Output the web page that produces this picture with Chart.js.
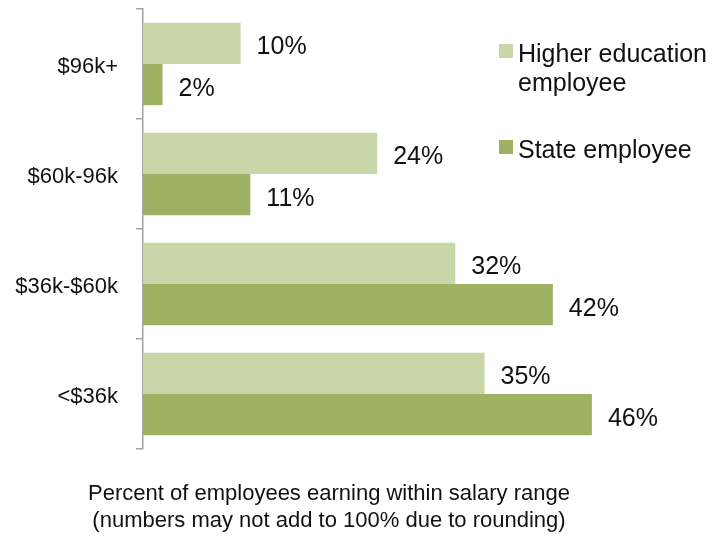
<!DOCTYPE html>
<html>
<head>
<meta charset="utf-8">
<script src="https://cdn.jsdelivr.net/npm/chart.js@4/dist/chart.umd.min.js"></script>
<style>
  html, body { margin: 0; padding: 0; background: #fff; }
  #wrap { width: 713px; height: 537px; }
</style>
</head>
<body>
<div id="wrap"><canvas id="salaryChart" width="713" height="537"></canvas></div>
<script>
var salaryRanges = ["$96k+", "$60k-96k", "$36k-$60k", "<$36k"];
var higherEdPct = [10, 24, 32, 35];
var statePct = [2, 11, 42, 46];
var seriesNames = [["Higher education", "employee"], ["State employee"]];
var footNote = [
    "Percent of employees earning within salary range",
    "(numbers may not add to 100% due to rounding)"
];

var FONT = '"Liberation Sans", Arial, Helvetica, sans-serif';
var LIGHT = "#c8d6a8";
var DARK = "#9db262";

// percent labels just past the end of each bar
var valueLabels = {
    id: "valueLabels",
    afterDatasetsDraw: function (chart) {
        var ctx = chart.ctx;
        ctx.save();
        ctx.font = "25px " + FONT;
        ctx.fillStyle = "#111";
        ctx.textAlign = "left";
        ctx.textBaseline = "middle";
        chart.data.datasets.forEach(function (ds, i) {
            chart.getDatasetMeta(i).data.forEach(function (bar, j) {
                ctx.fillText(ds.data[j] + "%", bar.x + 16, bar.y + 4);
            });
        });
        ctx.restore();
    }
};

// legend on the right plus the note under the plot
var sideLegend = {
    id: "sideLegend",
    afterDraw: function (chart) {
        var ctx = chart.ctx;
        ctx.save();
        ctx.font = "25px " + FONT;
        ctx.fillStyle = "#111";
        ctx.textAlign = "left";
        ctx.textBaseline = "alphabetic";
        var tops = [44, 140];
        chart.data.datasets.forEach(function (ds, i) {
            ctx.fillStyle = ds.backgroundColor;
            ctx.fillRect(499, tops[i], 14, 14);
            ctx.fillStyle = "#111";
            seriesNames[i].forEach(function (line, k) {
                ctx.fillText(line, 518, tops[i] + 18 + k * 29);
            });
        });

        ctx.font = "22px " + FONT;
        ctx.textAlign = "center";
        footNote.forEach(function (line, k) {
            ctx.fillText(line, 329, 500 + k * 27);
        });
        ctx.restore();
    }
};

var myBarChart = new Chart(document.getElementById("salaryChart"), {
    type: "bar",
    data: {
        labels: salaryRanges,
        datasets: [
            {
                label: "Higher education employee",
                data: higherEdPct,
                backgroundColor: LIGHT,
                categoryPercentage: 0.75,
                barPercentage: 1.0
            },
            {
                label: "State employee",
                data: statePct,
                backgroundColor: DARK,
                categoryPercentage: 0.75,
                barPercentage: 1.0
            }
        ]
    },
    options: {
        indexAxis: "y",
        responsive: false,
        animation: false,
        layout: { padding: { top: 9, bottom: 88, right: 4, left: 0 } },
        plugins: {
            legend: { display: false },
            tooltip: { enabled: false }
        },
        scales: {
            x: {
                display: false,
                min: 0,
                max: 58
            },
            y: {
                afterFit: function (scale) {
                    scale.width = 143;
                    // labels sit mid-category, no overhang to reserve
                    scale.paddingTop = 0;
                    scale.paddingBottom = 0;
                },
                grid: {
                    display: true,
                    offset: true,
                    drawOnChartArea: false,
                    drawTicks: true,
                    tickLength: 7,
                    color: "#a3a3a3",
                    lineWidth: 1.5
                },
                border: { display: true, color: "#a3a3a3", width: 1.5 },
                ticks: {
                    padding: 18,
                    labelOffset: 3,
                    color: "#111",
                    font: { family: FONT, size: 22 }
                }
            }
        }
    },
    plugins: [valueLabels, sideLegend]
});
</script>
</body>
</html>
